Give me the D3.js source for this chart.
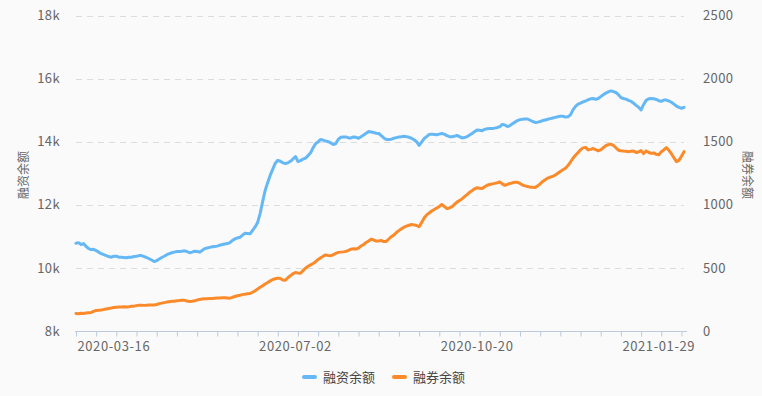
<!DOCTYPE html>
<html>
<head>
<meta charset="utf-8">
<title></title>
<script src="https://d3js.org/d3.v7.min.js" charset="utf-8"></script>
<style type="text/css">
	html, body { margin: 0; padding: 0; background: #fafafa; }
	svg text { font-family: 'Noto Sans CJK SC', 'Noto Sans', sans-serif; }
	.tick text { fill: #666; font-size: 13px; letter-spacing: 0.4px; }
</style>
</head>
<body>
<script type="text/javascript">
	var w = 762;
	var h = 396;

	// trading calendar
	var startDate = '2020-02-24';
	var endDate = '2021-02-19';
	var holidays = ['2020-04-06', '2020-05-01', '2020-05-04', '2020-05-05', '2020-06-25', '2020-06-26',
		'2020-10-01', '2020-10-02', '2020-10-05', '2020-10-06', '2020-10-07', '2020-10-08',
		'2021-01-01', '2021-02-11', '2021-02-12', '2021-02-15', '2021-02-16', '2021-02-17'];
	var labelDates = ['2020-03-16', '2020-07-02', '2020-10-20', '2021-01-29'];

	// 融资余额 (left axis)
	var finValues = [
		10780,10800,10740,10770,10680,10610,10580,10590,10550,10500,
		10450,10420,10390,10360,10340,10370,10370,10340,10340,10330,
		10320,10340,10340,10360,10370,10390,10390,10360,10330,10290,
		10250,10200,10230,10280,10330,10370,10420,10450,10480,10500,
		10520,10520,10530,10540,10520,10480,10500,10530,10520,10500,
		10550,10610,10630,10650,10670,10680,10690,10720,10740,10760,
		10770,10800,10870,10920,10950,10970,11040,11100,11090,11080,
		11190,11300,11440,11730,12110,12460,12710,12940,13130,13320,
		13410,13380,13330,13310,13330,13380,13450,13530,13370,13400,
		13450,13480,13560,13650,13810,13940,14000,14070,14050,14020,
		14000,13960,13910,13940,14080,14140,14150,14150,14120,14120,
		14150,14140,14110,14160,14210,14270,14320,14310,14290,14270,
		14260,14190,14120,14070,14070,14080,14110,14130,14150,14160,
		14170,14160,14140,14110,14060,14000,13880,13990,14100,14160,
		14230,14240,14230,14220,14240,14260,14240,14190,14160,14160,
		14170,14200,14160,14120,14130,14160,14210,14260,14320,14370,
		14360,14350,14390,14410,14420,14420,14430,14450,14480,14550,
		14530,14480,14510,14570,14620,14670,14700,14710,14720,14720,
		14680,14640,14610,14620,14640,14670,14690,14710,14730,14750,
		14770,14790,14810,14810,14780,14790,14850,15010,15120,15190,
		15220,15260,15290,15330,15360,15370,15340,15370,15430,15490,
		15540,15580,15610,15590,15560,15490,15400,15370,15350,15310,
		15280,15220,15150,15090,15010,15180,15310,15360,15370,15360,
		15340,15300,15280,15320,15320,15290,15250,15190,15130,15090,
		15060,15090
	];

	// 融券余额 (right axis)
	var secValues = [
		139,137,141,138,142,145,147,155,163,165,
		167,170,175,179,182,186,189,191,191,193,
		191,193,196,197,201,204,205,203,205,206,
		207,206,210,217,221,225,229,232,235,236,
		239,241,244,243,238,234,236,240,245,249,
		253,255,256,257,258,260,261,262,264,264,
		262,260,267,273,279,283,288,292,295,298,
		307,319,332,346,358,373,385,397,408,414,
		419,416,404,402,422,439,454,463,460,458,
		478,498,513,524,535,549,567,581,593,603,
		599,597,604,615,623,625,627,631,639,648,
		651,650,657,674,686,701,713,728,721,713,
		714,717,709,710,729,747,760,780,795,810,
		823,831,838,844,841,836,826,860,896,920,
		935,951,963,975,987,1002,987,970,975,983,
		1003,1021,1033,1047,1064,1081,1099,1112,1127,1135,
		1132,1129,1143,1155,1161,1166,1170,1175,1181,1166,
		1154,1162,1169,1174,1178,1178,1169,1156,1150,1145,
		1140,1139,1137,1150,1166,1185,1199,1212,1220,1225,
		1236,1250,1264,1277,1290,1311,1339,1369,1393,1413,
		1437,1451,1455,1435,1439,1446,1437,1428,1435,1452,
		1468,1477,1481,1471,1452,1433,1429,1426,1424,1420,
		1425,1426,1415,1419,1429,1406,1427,1414,1408,1411,
		1400,1397,1421,1435,1453,1432,1405,1373,1342,1352,
		1385,1421
	];

	var leftTicks = [8000, 10000, 12000, 14000, 16000, 18000];
	var rightTicks = [0, 500, 1000, 1500, 2000, 2500];
	var seriesNames = ['融资余额', '融券余额'];
	var colors = ['#66b8f5', '#fa8a2a'];

	// build trading days
	var fmt = d3.timeFormat('%Y-%m-%d');
	var dates = d3.timeDay.range(new Date(startDate + 'T00:00:00'), d3.timeDay.offset(new Date(endDate + 'T00:00:00'), 1))
		.filter(function (d) { return d.getDay() != 0 && d.getDay() != 6; })
		.map(fmt)
		.filter(function (d) { return holidays.indexOf(d) < 0; });

	var plotLeft = 76, plotRight = 684, plotTop = 15.5, plotBottom = 331;

	var x = d3.scalePoint().domain(dates).range([plotLeft, plotRight]);
	var yL = d3.scaleLinear().domain([8000, 18000]).range([plotBottom, plotTop]);
	var yR = d3.scaleLinear().domain([0, 2500]).range([plotBottom, plotTop]);

	var svg = d3.select('body')
		.append('svg')
		.attr('width', w)
		.attr('height', h);

	// grid
	svg.append('g')
		.selectAll('line')
		.data(leftTicks.slice(1))
		.enter()
		.append('line')
		.attr('x1', plotLeft)
		.attr('x2', plotRight)
		.attr('y1', function (d) { return Math.round(yL(d)) + 0.5; })
		.attr('y2', function (d) { return Math.round(yL(d)) + 0.5; })
		.attr('stroke', '#dcdcdc')
		.attr('stroke-dasharray', '6,5');

	// left axis
	var gl = svg.append('g')
		.attr('transform', 'translate(' + plotLeft + ',0)')
		.call(d3.axisLeft(yL).tickValues(leftTicks).tickSize(0).tickPadding(16)
			.tickFormat(function (d) { return d / 1000 + 'k'; }));
	gl.select('.domain').remove();

	// right axis
	var gr = svg.append('g')
		.attr('transform', 'translate(' + plotRight + ',0)')
		.call(d3.axisRight(yR).tickValues(rightTicks).tickSize(0).tickPadding(19)
			.tickFormat(d3.format('d')));
	gr.select('.domain').remove();

	// x axis
	var gx = svg.append('g')
		.attr('transform', 'translate(0,' + (plotBottom + 0.5) + ')')
		.call(d3.axisBottom(x)
			.tickValues(dates.filter(function (d, i) { return i % 8 == 0; }))
			.tickSize(5)
			.tickFormat(''));
	gx.select('.domain').attr('stroke', '#bccbdb').attr('d', 'M' + (plotLeft - 1) + ',0H' + (plotRight + 3));
	gx.selectAll('.tick line').attr('stroke', '#bccbdb');

	svg.append('g')
		.selectAll('text')
		.data(labelDates)
		.enter()
		.append('text')
		.text(function (d) { return d; })
		.attr('x', function (d) { return x(d); })
		.attr('y', 351)
		.attr('text-anchor', 'middle')
		.style('font-size', '13px')
		.style('letter-spacing', '0.6px')
		.style('fill', '#666');

	// axis titles
	svg.append('text')
		.text(seriesNames[0])
		.attr('transform', 'translate(28,175) rotate(-90)')
		.attr('text-anchor', 'middle')
		.style('font-size', '12px')
		.style('fill', '#666');

	svg.append('text')
		.text(seriesNames[1])
		.attr('transform', 'translate(743,175) rotate(90)')
		.attr('text-anchor', 'middle')
		.style('font-size', '12px')
		.style('fill', '#666');

	// lines
	var series = [
		{ values: finValues, y: yL },
		{ values: secValues, y: yR }
	];

	series.forEach(function (s, k) {
		var line = d3.line()
			.x(function (d, i) { return x(dates[i]); })
			.y(function (d) { return s.y(d); });
		svg.append('path')
			.datum(s.values)
			.attr('d', line)
			.attr('fill', 'none')
			.attr('stroke', colors[k])
			.attr('stroke-width', 3)
			.attr('stroke-linejoin', 'round')
			.attr('stroke-linecap', 'round');
	});

	// legend
	var legendX = [302, 392];
	var legend = svg.append('g')
		.selectAll('g')
		.data(seriesNames)
		.enter()
		.append('g')
		.attr('transform', function (d, i) { return 'translate(' + legendX[i] + ',377)'; });

	legend.append('rect')
		.attr('x', 0)
		.attr('y', -2)
		.attr('width', 15)
		.attr('height', 4)
		.attr('rx', 2)
		.attr('fill', function (d, i) { return colors[i]; });

	legend.append('text')
		.text(function (d) { return d; })
		.attr('x', 21)
		.attr('y', 5)
		.style('font-size', '13px')
		.style('fill', '#444');
</script>
</body>
</html>
